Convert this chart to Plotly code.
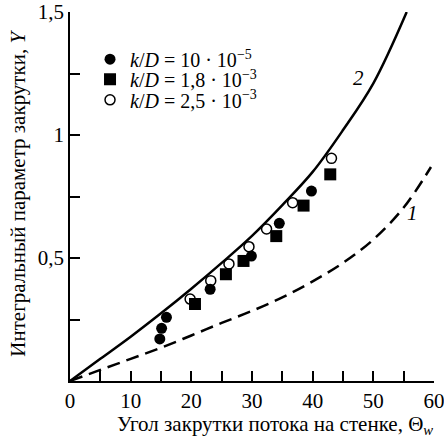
import plotly.graph_objects as go

# Curve 2 (solid) and curve 1 (dashed)
curve2_x = [0, 5, 10, 15, 20, 25, 30, 35, 40, 45, 50, 55.5]
curve2_y = [0, 0.09, 0.18, 0.275, 0.375, 0.48, 0.59, 0.715, 0.85, 1.02, 1.21, 1.5]
curve1_x = [0, 5, 10, 15, 20, 25, 30, 35, 40, 45, 50, 55, 59.5]
curve1_y = [0, 0.045, 0.09, 0.135, 0.185, 0.236, 0.285, 0.34, 0.405, 0.48, 0.575, 0.705, 0.87]

# Experimental points
s1_x = [14.8, 15.1, 15.9, 23.1, 29.9, 34.5, 39.8]
s1_y = [0.171, 0.214, 0.259, 0.373, 0.508, 0.641, 0.772]
s2_x = [20.6, 25.7, 28.6, 34.0, 38.5, 42.9]
s2_y = [0.313, 0.434, 0.488, 0.589, 0.713, 0.840]
s3_x = [19.8, 23.2, 26.2, 29.5, 32.4, 36.7, 43.1]
s3_y = [0.333, 0.408, 0.476, 0.546, 0.618, 0.725, 0.905]

legend_names = [
    "<i>k</i>/<i>D</i> = 10 · 10<sup>−5</sup>",
    "<i>k</i>/<i>D</i> = 1,8 · 10<sup>−3</sup>",
    "<i>k</i>/<i>D</i> = 2,5 · 10<sup>−3</sup>",
]

x_tickvals = [0, 5, 10, 15, 20, 25, 30, 35, 40, 45, 50, 55, 60]
x_ticktext = ["0", "", "10", "", "20", "", "30", "", "40", "", "50", "", "60"]
y_tickvals = [0, 0.25, 0.5, 0.75, 1.0, 1.25, 1.5]
y_ticktext = ["", "", "0,5", "", "1", "", "1,5"]

x_title = "Угол закрутки потока на стенке, Θ<sub><i>w</i></sub>"
y_title = "Интегральный параметр закрутки, <i>Y</i>"

FONT = "Liberation Serif"
fnt = dict(family=FONT, size=21, color="black")

fig = go.Figure()
fig.add_trace(go.Scatter(x=curve2_x, y=curve2_y, mode="lines", line=dict(color="black", width=2.5, shape="spline"),
                         showlegend=False, cliponaxis=False))
fig.add_trace(go.Scatter(x=curve1_x, y=curve1_y, mode="lines", line=dict(color="black", width=2.5, shape="spline", dash="13px,7px"),
                         showlegend=False))
fig.add_trace(go.Scatter(x=s1_x, y=s1_y, mode="markers", name=legend_names[0], legend="legend",
                         marker=dict(symbol="circle", size=11, color="black")))
fig.add_trace(go.Scatter(x=s2_x, y=s2_y, mode="markers", name=legend_names[1], legend="legend2",
                         marker=dict(symbol="square", size=12, color="black")))
fig.add_trace(go.Scatter(x=s3_x, y=s3_y, mode="markers", name=legend_names[2], legend="legend3",
                         marker=dict(symbol="circle-open", size=10, color="black", line=dict(width=1.5))))

fig.add_annotation(x=47.6, y=1.232, text="<i>2</i>", showarrow=False, font=fnt)
fig.add_annotation(x=56.5, y=0.683, text="<i>1</i>", showarrow=False, font=fnt)
fig.add_annotation(x=0.563, y=-0.119, xref="paper", yref="paper", xanchor="center", yanchor="middle",
                   text=x_title, showarrow=False, font=fnt)
fig.add_annotation(x=-0.143, y=0.51, xref="paper", yref="paper", xanchor="center", yanchor="middle",
                   text=y_title, textangle=-90, showarrow=False, font=fnt)

leg_common = dict(xanchor="left", yanchor="middle", bgcolor="rgba(0,0,0,0)",
                  font=dict(family=FONT, size=20, color="black"), itemwidth=30, tracegroupgap=0)

fig.update_layout(
    template="none",
    width=444, height=437,
    margin=dict(l=70, r=10, t=12, b=56, autoexpand=False),
    plot_bgcolor="white", paper_bgcolor="white",
    font=fnt,
    showlegend=True,
    legend=dict(x=0.055, y=0.872, **leg_common),
    legend2=dict(x=0.055, y=0.818, **leg_common),
    legend3=dict(x=0.055, y=0.762, **leg_common),
    xaxis=dict(range=[0, 60], showline=True, linecolor="black", linewidth=1.5, showgrid=False, zeroline=False,
               automargin=False, tickfont=fnt, ticklabeloverflow="allow",
               tickvals=x_tickvals, ticktext=x_ticktext, ticks="inside", ticklen=10, tickwidth=1.5, tickcolor="black"),
    yaxis=dict(range=[0, 1.5], showline=True, linecolor="black", linewidth=1.5, showgrid=False, zeroline=False,
               automargin=False, tickfont=fnt, ticklabeloverflow="allow",
               tickvals=y_tickvals, ticktext=y_ticktext, ticks="inside", ticklen=10, tickwidth=1.5, tickcolor="black"),
)

fig.write_html("out.html", config={"displayModeBar": False}, post_script="document.body.style.margin='0';")
